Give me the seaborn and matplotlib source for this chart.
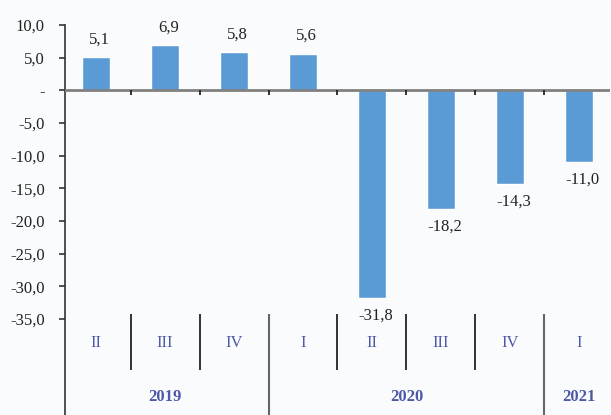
import numpy as np
import pandas as pd
import seaborn as sns
import matplotlib.pyplot as plt

# quarterly change, %
years = ['2019', '2019', '2019', '2020', '2020', '2020', '2020', '2021']
quarters = ['II', 'III', 'IV', 'I', 'II', 'III', 'IV', 'I']
values = [5.1, 6.9, 5.8, 5.6, -31.8, -18.2, -14.3, -11.0]
yticks = [10, 5, 0, -5, -10, -15, -20, -25, -30, -35]

df = pd.DataFrame({'period': [y + ' ' + q for y, q in zip(years, quarters)],
                   'value': values})

sns.set_style('white')
plt.rcParams['font.family'] = ['Liberation Serif', 'DejaVu Serif']

bg = '#fafbfd'
bar_col = '#5b9bd5'
lab_col = '#4d58a6'

fig = plt.figure(figsize=(6.11, 4.15), dpi=100, facecolor=bg)
ax = fig.add_axes([65 / 611, 0, 545 / 611, 390 / 415])
ax.set_facecolor(bg)

sns.barplot(data=df, x='period', y='value', color=bar_col, width=0.41,
            saturation=1, ax=ax)

n = len(values)
ax.set_xlim(-0.45, n - 0.55)
ax.set_ylim(-49.7, 10)

# y axis
ax.set_yticks(yticks)
ax.set_yticklabels(['-' if t == 0 else f'{t:.1f}'.replace('.', ',') for t in yticks],
                   fontsize=12, color='#222222')
ax.tick_params(axis='y', left=True, direction='out', length=4.5, width=1.2,
               color='#333333', pad=10)
ax.set_xticks([])
ax.set_xlabel('')
ax.set_ylabel('')
for s in ['top', 'right', 'bottom']:
    ax.spines[s].set_visible(False)
ax.spines['left'].set_color('#333333')
ax.spines['left'].set_linewidth(1.2)

# zero line with small ticks between categories
ax.axhline(0, color='#808080', lw=2, zorder=3)
bounds = np.arange(n) + 0.5
ax.vlines(bounds, 0, -0.7, color='#222222', lw=1.3, zorder=3)

# value labels
for i, v in enumerate(values):
    txt = f'{v:.1f}'.replace('.', ',')
    if v >= 0:
        ax.text(i + 0.05, v + 1.5, txt, ha='center', va='bottom', fontsize=12, color='#222222')
    else:
        ax.text(i + 0.05, v - 1.5, txt, ha='center', va='top', fontsize=12, color='#222222')

# quarter labels and dividers
for i, q in enumerate(quarters):
    ax.text(i, -38.7, q, ha='center', va='center', fontsize=12, color=lab_col)
for i in range(n - 1):
    if years[i] != years[i + 1]:
        ax.vlines(i + 0.5, -34.3, -49.7, color='#666666', lw=1.5, clip_on=False)
    else:
        ax.vlines(i + 0.5, -34.3, -42.8, color='#222222', lw=1.3)

# year labels
for y in dict.fromkeys(years):
    idx = [i for i, yy in enumerate(years) if yy == y]
    ax.text(np.mean(idx), -47, y, ha='center', va='center', fontsize=12,
            fontweight='bold', color=lab_col)

fig.savefig('out.png', dpi=100, facecolor=bg)
